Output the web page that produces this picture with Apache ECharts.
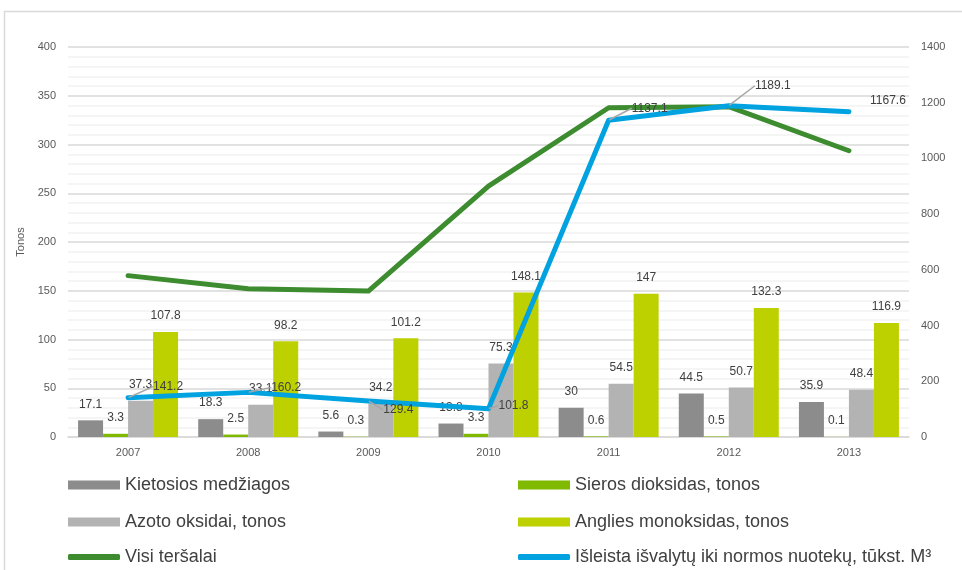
<!DOCTYPE html>
<html>
<head>
<meta charset="utf-8">
<script src="https://cdn.jsdelivr.net/npm/echarts@6/dist/echarts.min.js"></script>
<style>
  html, body { margin: 0; padding: 0; background: #fff; }
  #main { width: 962px; height: 570px; }
</style>
</head>
<body>
<div id="main"></div>
<script>
const years = ['2007', '2008', '2009', '2010', '2011', '2012', '2013']
const kietosios = [17.1, 18.3, 5.6, 13.8, 30, 44.5, 35.9]
const sieros = [3.3, 2.5, 0.3, 3.3, 0.6, 0.5, 0.1]
const azoto = [37.3, 33.1, 34.2, 75.3, 54.5, 50.7, 48.4]
const anglies = [107.8, 98.2, 101.2, 148.1, 147, 132.3, 116.9]
const visi = [165.5, 152.1, 149.7, 257.4, 337.7, 338.8, 293.6]
const nuotekos = [141.2, 160.2, 129.4, 101.8, 1137.1, 1189.1, 1167.6]

// where each callout label sits relative to its point (px), and whether it has a leader line
const calloutOffsets = [[40, -11], [38, -5], [30, 9], [25, -3], [41, -12], [44, -20], [39, -11]]
const calloutLeader = [true, true, true, true, true, true, false]

const chart = echarts.init(document.getElementById('main'), null, { renderer: 'canvas' })

const labelFont = { fontFamily: 'Liberation Sans', fontSize: 12, color: '#404040' }
const legendText = { fontFamily: 'Liberation Sans', fontSize: 18, color: '#404040' }

function barSeries(name, data, color) {
  return {
    name: name,
    type: 'bar',
    data: data,
    barWidth: 25,
    barGap: '0%',
    itemStyle: { color: color },
    label: { show: true, position: 'top', distance: 10, ...labelFont }
  }
}

function legendItem(name, left, top, isLine) {
  return {
    left: left, top: top,
    itemWidth: 52, itemHeight: isLine ? 6 : 9, itemGap: 0,
    textStyle: legendText,
    data: [{ name: name, icon: isLine ? 'roundRect' : 'rect' }]
  }
}

const option = {
  animation: false,
  textStyle: { fontFamily: 'Liberation Sans' },
  graphic: [{
    type: 'rect',
    shape: { x: 4.5, y: 11.5, width: 1000, height: 600 },
    style: { fill: 'none', stroke: '#d9d9d9', lineWidth: 1.5 },
    silent: true
  }],
  grid: { left: 68, right: 53, top: 47, bottom: 133 },
  legend: [
    legendItem('Kietosios medžiagos', 63, 471, false),
    legendItem('Azoto oksidai, tonos', 63, 508, false),
    legendItem('Visi teršalai', 63, 543, true),
    legendItem('Sieros dioksidas, tonos', 513, 471, false),
    legendItem('Anglies monoksidas, tonos', 513, 508, false),
    legendItem('Išleista išvalytų iki normos nuotekų, tūkst. M³', 513, 543, true)
  ],
  xAxis: {
    type: 'category',
    data: years,
    axisLine: { lineStyle: { color: '#d9d9d9', width: 1.5 } },
    axisTick: { show: false },
    axisLabel: { fontFamily: 'Liberation Sans', fontSize: 11, color: '#595959', margin: 10 }
  },
  yAxis: [
    {
      type: 'value', min: 0, max: 400, interval: 50,
      name: 'Tonos', nameLocation: 'middle', nameGap: 36, nameRotate: 90,
      nameTextStyle: { fontFamily: 'Liberation Sans', fontSize: 11, color: '#595959' },
      axisLabel: { fontFamily: 'Liberation Sans', fontSize: 11, color: '#595959', margin: 12 },
      splitLine: { lineStyle: { color: '#d9d9d9', width: 1.5 } },
      minorTick: { show: false, splitNumber: 5 },
      minorSplitLine: { show: true, lineStyle: { color: '#f2f2f2', width: 1.5 } }
    },
    {
      type: 'value', min: 0, max: 1400, interval: 200,
      axisLabel: { fontFamily: 'Liberation Sans', fontSize: 11, color: '#595959', margin: 12, formatter: v => String(v) },
      splitLine: { show: false }
    }
  ],
  series: [
    barSeries('Kietosios medžiagos', kietosios, '#8c8c8c'),
    barSeries('Sieros dioksidas, tonos', sieros, '#7fba00'),
    barSeries('Azoto oksidai, tonos', azoto, '#b3b3b3'),
    barSeries('Anglies monoksidas, tonos', anglies, '#bdd000'),
    {
      name: 'Visi teršalai',
      type: 'line',
      data: visi,
      showSymbol: false,
      color: '#3d8c2f',
      lineStyle: { width: 5, color: '#3d8c2f', cap: 'round', join: 'round' }
    },
    {
      name: 'Išleista išvalytų iki normos nuotekų, tūkst. M³',
      type: 'line',
      yAxisIndex: 1,
      data: nuotekos.map((v, i) => ({ value: v, labelLine: { show: calloutLeader[i] } })),
      symbol: 'circle',
      symbolSize: 1,
      color: '#00a2e0',
      lineStyle: { width: 5, color: '#00a2e0', cap: 'round', join: 'round' },
      z: 5,
      label: { show: true, position: 'top', ...labelFont },
      labelLine: { show: true, lineStyle: { color: '#a6a6a6', width: 1.5 } },
      labelLayout: function (params) {
        const off = calloutOffsets[params.dataIndex]
        return {
          x: params.rect.x + params.rect.width / 2 + off[0],
          y: params.rect.y + params.rect.height / 2 + off[1],
          align: 'center',
          verticalAlign: 'middle'
        }
      }
    }
  ]
}

chart.setOption(option)
</script>
</body>
</html>
